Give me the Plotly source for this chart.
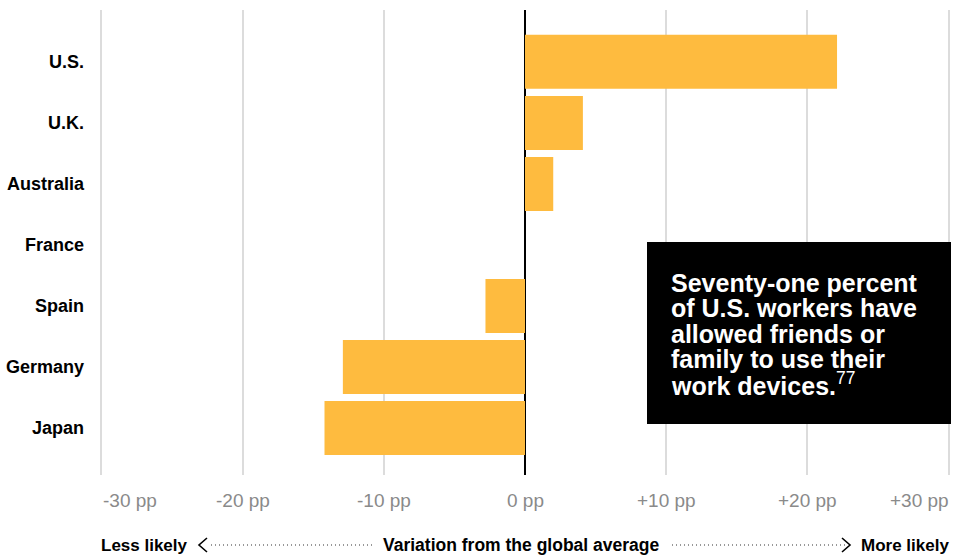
import plotly.graph_objects as go

countries = ["U.S.", "U.K.", "Australia", "France", "Spain", "Germany", "Japan"]
variation = [22.1, 4.1, 2.0, 0.0, -2.8, -12.9, -14.2]
tick_values = [-30, -20, -10, 0, 10, 20, 30]
tick_labels = ["-30 pp", "-20 pp", "-10 pp", "0 pp", "+10 pp", "+20 pp", "+30 pp"]
callout_lines = ["Seventy-one percent", "of U.S. workers have", "allowed friends or",
                 "family to use their", "work devices."]

W, H = 953, 557
L, R, T, B = 100, 3, 10, 82
PW, PH = W - L - R, H - T - B

def px(x):
    return (x - L) / PW

def py(y):
    return 1 - (y - T) / PH

FONT = "Liberation Sans"
fig = go.Figure()
fig.add_trace(go.Bar(
    y=countries, x=variation, orientation="h",
    marker=dict(color="#FEBB3F", line=dict(width=0)),
    width=0.885, hoverinfo="skip",
))

fig.update_layout(
    width=W, height=H,
    margin=dict(l=L, r=R, t=T, b=B),
    plot_bgcolor="white", paper_bgcolor="white",
    showlegend=False,
    font=dict(family=FONT),
    xaxis=dict(
        range=[-30.1, 30.1], tickvals=tick_values, ticktext=[""] * len(tick_values),
        showgrid=True, gridcolor="#DCDCDC", gridwidth=2,
        zeroline=True, zerolinecolor="black", zerolinewidth=2,
        ticks="", showline=False, fixedrange=True, showticklabels=False,
    ),
    yaxis=dict(
        categoryorder="array", categoryarray=countries[::-1],
        range=[-0.77, 6.85], showgrid=False, zeroline=False,
        tickfont=dict(size=18, color="black", family=FONT, weight="bold"),
        ticks="", ticklabelstandoff=15, fixedrange=True,
    ),
)

# x tick labels (end labels kept inside the plot width)
for i, (v, lab) in enumerate(zip(tick_values, tick_labels)):
    anchor = "left" if i == 0 else ("right" if i == len(tick_values) - 1 else "center")
    fig.add_annotation(xref="x", yref="paper", x=v, y=py(500), xanchor=anchor, yanchor="middle",
                       text=lab, showarrow=False, xshift=2 if anchor == "right" else 0,
                       font=dict(size=19, color="#8A8A8A", family=FONT))

# callout box
fig.add_shape(type="rect", xref="paper", yref="paper",
              x0=px(647), x1=px(951), y0=py(424), y1=py(242),
              fillcolor="black", line=dict(width=0), layer="above")
for i, line in enumerate(callout_lines):
    txt = f"<b>{line}</b>"
    if i == len(callout_lines) - 1:
        txt += "<sup>77</sup>"
    fig.add_annotation(
        xref="paper", yref="paper", x=px(669), y=py(283 + 25.3 * i),
        xanchor="left", yanchor="middle", align="left", showarrow=False,
        text=txt, font=dict(size=25, color="white", family=FONT),
    )

# bottom caption
yb = py(545)
fig.add_annotation(xref="paper", yref="paper", x=px(99), y=yb, xanchor="left", yanchor="middle",
                   text="<b>Less likely</b>", showarrow=False, font=dict(size=17, color="black", family=FONT))
fig.add_annotation(xref="paper", yref="paper", x=px(521), y=yb, xanchor="center", yanchor="middle",
                   text="<b>Variation from the global average</b>", showarrow=False,
                   font=dict(size=17.5, color="black", family=FONT))
fig.add_annotation(xref="paper", yref="paper", x=px(951), y=yb, xanchor="right", yanchor="middle",
                   text="<b>More likely</b>", showarrow=False, font=dict(size=17, color="black", family=FONT))
# dotted leaders
for x0, x1 in [(211, 373), (672, 845)]:
    fig.add_shape(type="line", xref="paper", yref="paper", x0=px(x0), x1=px(x1), y0=yb, y1=yb,
                  line=dict(color="#333333", width=1.2, dash="1px,3px"))
# chevrons
fig.add_shape(type="path", xref="paper", yref="paper",
              path=f"M {px(207)},{py(538)} L {px(199)},{py(545)} L {px(207)},{py(552)}",
              line=dict(color="black", width=1.6))
fig.add_shape(type="path", xref="paper", yref="paper",
              path=f"M {px(842)},{py(538)} L {px(850)},{py(545)} L {px(842)},{py(552)}",
              line=dict(color="black", width=1.6))

fig.write_html("out.html", config={"displayModeBar": False},
               post_script="document.body.style.margin='0';document.body.style.overflow='hidden';")
